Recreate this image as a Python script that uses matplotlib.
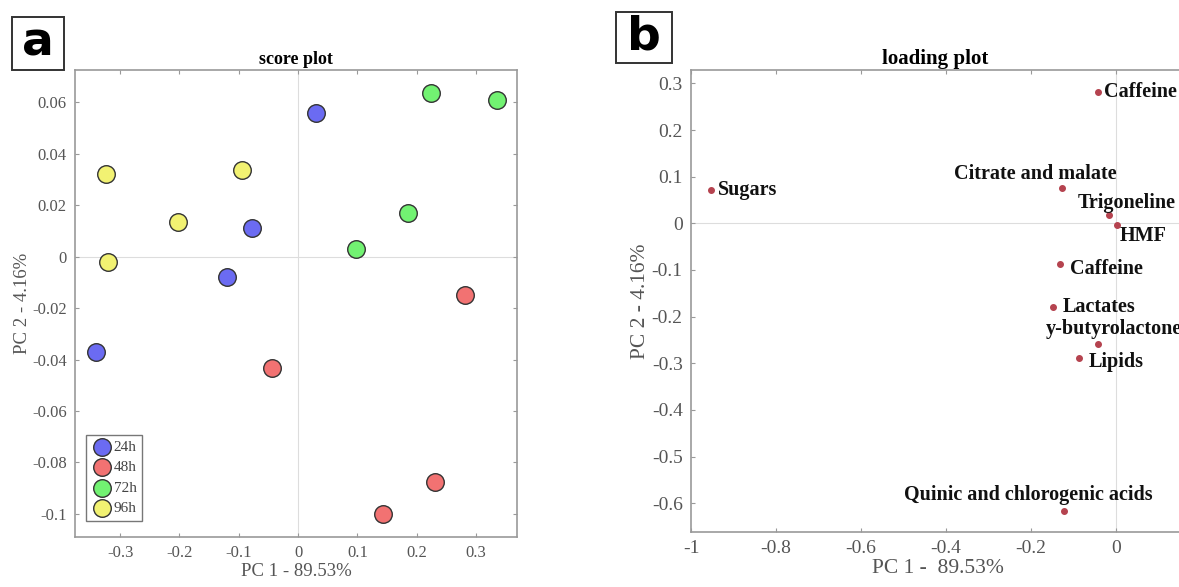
import matplotlib
matplotlib.use('Agg')
import matplotlib.pyplot as plt
from matplotlib.patches import Rectangle

# score plot data (PC1, PC2) per group
groups = ['24h', '48h', '72h', '96h']
score_x = {
    '24h': [0.030, -0.078, -0.119, -0.341],
    '48h': [0.282, -0.044, 0.231, 0.143],
    '72h': [0.224, 0.336, 0.186, 0.097],
    '96h': [-0.323, -0.095, -0.203, -0.321],
}
score_y = {
    '24h': [0.0557, 0.0113, -0.0078, -0.0369],
    '48h': [-0.0149, -0.0431, -0.0877, -0.1000],
    '72h': [0.0637, 0.0608, 0.0171, 0.0031],
    '96h': [0.0321, 0.0338, 0.0136, -0.0021],
}
group_colors = ['#6b6bf2', '#f27272', '#72f272', '#f2f272']

# loading plot data
load_names = ['Caffeine', 'Sugars', 'Citrate and malate', 'Trigoneline', 'HMF',
              'Caffeine', 'Lactates', 'y-butyrolactone', 'Lipids',
              'Quinic and chlorogenic acids']
load_x = [-0.043, -0.952, -0.128, -0.016, 0.003, -0.131, -0.149, -0.042, -0.086, -0.122]
load_y = [0.282, 0.071, 0.075, 0.018, -0.004, -0.088, -0.180, -0.259, -0.288, -0.616]
# label offsets in points (dx, dy, ha)
load_off = [(4.5, 0, 'left'), (4.5, 0, 'left'), (-19, 10.5, 'center'), (-22.5, 8.5, 'left'),
            (1.5, -7.5, 'left'), (7, -3, 'left'), (7, 0, 'left'), (-38, 11, 'left'),
            (7, -3, 'left'), (-26, 11.5, 'center')]

serif = 'Liberation Serif'
grey = '#555555'

fig = plt.figure(figsize=(11.79, 5.87), dpi=100)

def style_axes(ax, size):
    for sp in ax.spines.values():
        sp.set_color('#999999')
        sp.set_linewidth(1.2)
    ax.tick_params(direction='in', top=True, right=True, length=3, color='#999999',
                   labelcolor=grey, labelsize=size, pad=6)
    for lab in ax.get_xticklabels() + ax.get_yticklabels():
        lab.set_fontfamily(serif)
    ax.axhline(0, color='#dddddd', lw=0.8, zorder=0)
    ax.axvline(0, color='#dddddd', lw=0.8, zorder=0)

def panel_label(letter, x0, y0, x1, y1):
    # box in pixel coords from top-left
    W, H = 1179.0, 587.0
    fig.patches.append(Rectangle((x0 / W, 1 - y1 / H), (x1 - x0) / W, (y1 - y0) / H,
                                 transform=fig.transFigure, facecolor='white',
                                 edgecolor='#333333', lw=1.4))
    fig.text((x0 + x1) / 2 / W, 1 - (y0 + y1) / 2 / H, letter, fontsize=34, fontweight='bold',
             ha='center', va='center', fontfamily='DejaVu Sans')

# ---- a: score plot
ax1 = fig.add_axes([75 / 1179, 1 - 537 / 587, 442 / 1179, 467 / 587])
for g, c in zip(groups, group_colors):
    ax1.scatter(score_x[g], score_y[g], s=160, facecolor=c, edgecolor='#333333',
                linewidth=1.0, label=g, zorder=3)
ax1.set_xlim(-0.376, 0.369)
ax1.set_ylim(-0.109, 0.0726)
ax1.set_xticks([-0.3, -0.2, -0.1, 0, 0.1, 0.2, 0.3])
ax1.set_xticklabels(['-0.3', '-0.2', '-0.1', '0', '0.1', '0.2', '0.3'])
ax1.set_yticks([-0.1, -0.08, -0.06, -0.04, -0.02, 0, 0.02, 0.04, 0.06])
ax1.set_yticklabels(['-0.1', '-0.08', '-0.06', '-0.04', '-0.02', '0', '0.02', '0.04', '0.06'])
style_axes(ax1, 12)
ax1.set_xlabel('PC 1 - 89.53%', fontfamily=serif, fontsize=13.5, color=grey, labelpad=1)
ax1.set_ylabel('PC 2 - 4.16%', fontfamily=serif, fontsize=13.5, color=grey, labelpad=1)
ax1.set_title('score plot', fontfamily=serif, fontweight='bold', fontsize=13, pad=4)
leg = ax1.legend(loc='lower left', bbox_to_anchor=(0.015, 0.025), frameon=True, fancybox=False,
                 prop={'family': serif, 'size': 11}, handletextpad=0.05, borderpad=0.35,
                 labelspacing=0.45, handlelength=1.4, borderaxespad=0.3)
leg.get_frame().set_edgecolor('#555555')
leg.get_frame().set_linewidth(1.0)
for t in leg.get_texts():
    t.set_color('#444444')

panel_label('a', 12, 17, 64, 70)

# ---- b: loading plot (right side runs past the figure edge, as in the source)
ax2 = fig.add_axes([691 / 1179, 1 - 532 / 587, 595 / 1179, 462 / 587])
ax2.plot(load_x, load_y, 'o', ms=4, color='#b5434f', zorder=3)
ax2.set_xlim(-1.0, 0.4)
ax2.set_ylim(-0.6615, 0.3286)
ax2.set_xticks([-1, -0.8, -0.6, -0.4, -0.2, 0])
ax2.set_xticklabels(['-1', '-0.8', '-0.6', '-0.4', '-0.2', '0'])
ax2.set_yticks([-0.6, -0.5, -0.4, -0.3, -0.2, -0.1, 0, 0.1, 0.2, 0.3])
ax2.set_yticklabels(['-0.6', '-0.5', '-0.4', '-0.3', '-0.2', '-0.1', '0', '0.1', '0.2', '0.3'])
style_axes(ax2, 14)
for name, x, y, (dx, dy, ha) in zip(load_names, load_x, load_y, load_off):
    ax2.annotate(name, (x, y), xytext=(dx, dy), textcoords='offset points', ha=ha,
                 va='center', fontfamily=serif, fontweight='bold', fontsize=14.5, color='#111111')
ax2.set_xlabel('PC 1 -  89.53%', fontfamily=serif, fontsize=15.5, color=grey, labelpad=1,
               x=(938 - 691) / 595)
ax2.set_ylabel('PC 2 - 4.16%', fontfamily=serif, fontsize=15.5, color=grey, labelpad=1)
ax2.set_title('loading plot', fontfamily=serif, fontweight='bold', fontsize=15, pad=4,
              x=(935 - 691) / 595)

panel_label('b', 616, 12, 672, 63)

fig.savefig('out.png', dpi=100)
